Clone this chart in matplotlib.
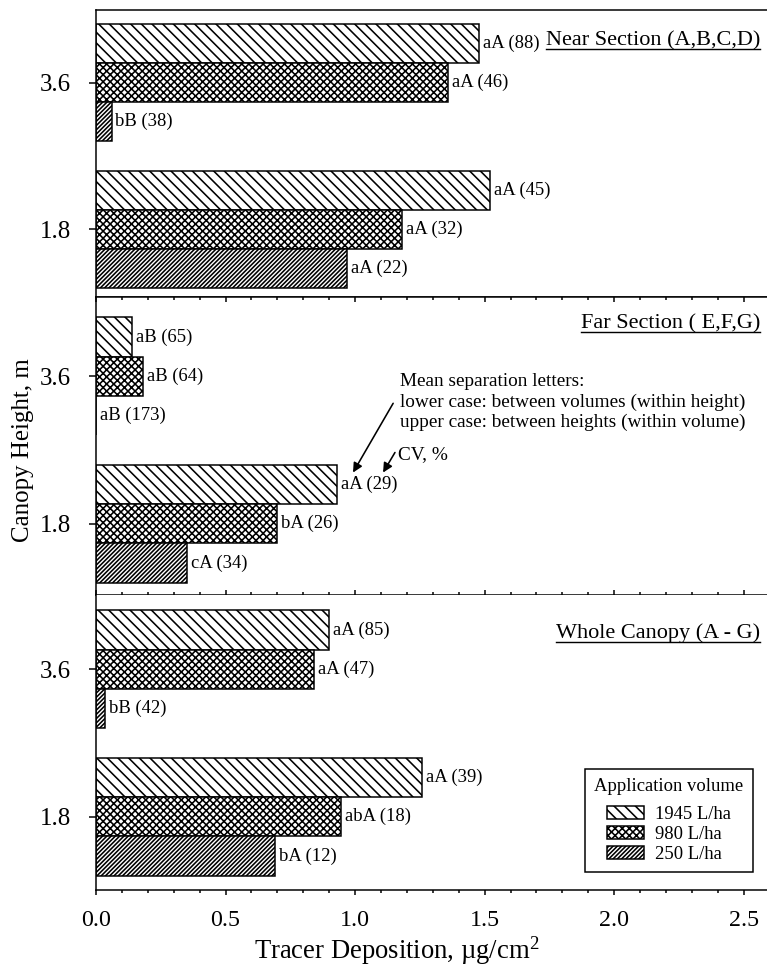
import numpy as np
import matplotlib
matplotlib.use("Agg")
import matplotlib.pyplot as plt
from matplotlib.patches import Patch
from matplotlib.lines import Line2D
from matplotlib.ticker import MultipleLocator, FormatStrFormatter

plt.rcParams["font.family"] = ["Liberation Serif", "DejaVu Serif"]
plt.rcParams["mathtext.fontset"] = "custom"
plt.rcParams["mathtext.rm"] = "Liberation Serif"
plt.rcParams["mathtext.it"] = "Liberation Serif:italic"
plt.rcParams["hatch.linewidth"] = 0.9

heights = [3.6, 1.8]
volumes = ["1945 L/ha", "980 L/ha", "250 L/ha"]
hatches = ["\\" * 4, "x" * 6, "/" * 10]
titles = ["Near Section (A,B,C,D)", "Far Section ( E,F,G)", "Whole Canopy (A - G)"]

# deposition (ug/cm2) at [3.6 m, 1.8 m]
near_1945 = [1.48, 1.52]
near_980 = [1.36, 1.18]
near_250 = [0.06, 0.97]
far_1945 = [0.14, 0.93]
far_980 = [0.18, 0.70]
far_250 = [0.0, 0.35]
whole_1945 = [0.90, 1.26]
whole_980 = [0.84, 0.945]
whole_250 = [0.035, 0.69]

# mean separation letters and CV %
near_lab = [["aA (88)", "aA (45)"], ["aA (46)", "aA (32)"], ["bB (38)", "aA (22)"]]
far_lab = [["aB (65)", "aA (29)"], ["aB (64)", "bA (26)"], ["aB (173)", "cA (34)"]]
whole_lab = [["aA (85)", "aA (39)"], ["aA (47)", "abA (18)"], ["bB (42)", "bA (12)"]]

panels = [
    ([near_1945, near_980, near_250], near_lab),
    ([far_1945, far_980, far_250], far_lab),
    ([whole_1945, whole_980, whole_250], whole_lab),
]

W, H, DPI = 767, 968, 128
fig = plt.figure(figsize=(W / DPI, H / DPI), dpi=DPI)
fig.patch.set_facecolor("white")

panel_px = [(10, 297), (297, 595), (595, 890)]
ylims = [(0.968, 4.49), (0.931, 4.567), (0.907, 4.506)]
title_y = [0.878, 0.896, 0.854]
offsets = [0.48, 0.0, -0.48]
bar_h = 0.48
lw = 0.85
x0 = 96 / W

axes = []
for i, ((top, bot), (series, labels)) in enumerate(zip(panel_px, panels)):
    ax = fig.add_axes([x0, 1 - bot / H, 1 - x0, (bot - top) / H])
    axes.append(ax)
    y = np.array(heights)
    for j, vals in enumerate(series):
        ax.barh(y + offsets[j], vals, height=bar_h, color="white",
                edgecolor="black", hatch=hatches[j], linewidth=lw)
        for k, v in enumerate(vals):
            ax.annotate(labels[j][k], (v, y[k] + offsets[j]), xytext=(2.2, 0),
                        textcoords="offset points", ha="left", va="center",
                        fontsize=10.5)
    ax.set_xlim(0, 2.59)
    ax.set_ylim(*ylims[i])
    ax.set_yticks(heights)
    ax.set_yticklabels([f"{h:.1f}" for h in heights], fontsize=14)
    ax.tick_params(axis="y", direction="out", length=4, width=lw, pad=10)
    ax.xaxis.set_major_locator(MultipleLocator(0.5))
    ax.xaxis.set_minor_locator(MultipleLocator(0.1))
    ax.spines["right"].set_visible(False)
    for s in ax.spines.values():
        s.set_linewidth(lw)
    ax.text(0.99, title_y[i], titles[i], transform=ax.transAxes, ha="right",
            va="baseline", fontsize=12.5)

top_ax, mid_ax, bot_ax = axes
top_ax.tick_params(axis="x", which="both", bottom=False, labelbottom=False)
mid_ax.tick_params(axis="x", which="both", direction="in", top=True, bottom=True,
                   labelbottom=False, width=lw)
mid_ax.tick_params(axis="x", which="major", length=2.8)
mid_ax.tick_params(axis="x", which="minor", length=1.9)
bot_ax.spines["top"].set_visible(False)
bot_ax.tick_params(axis="x", which="both", direction="out", width=lw,
                   labelsize=13.5, pad=8.5)
bot_ax.tick_params(axis="x", which="major", length=2.8)
bot_ax.tick_params(axis="x", which="minor", length=1.9)
bot_ax.xaxis.set_major_formatter(FormatStrFormatter("%.1f"))

fig.text(23 / W, 1 - 450 / H, "Canopy Height, m", rotation=90, ha="center",
         va="center", fontsize=14)
fig.text(397 / W, 1 - 959 / H, "Tracer Deposition, µg/cm$^2$", ha="center",
         va="baseline", fontsize=15)

# annotation explaining the bar labels
mid_ax.text(1.174, 3.64, "Mean separation letters:\n"
            "lower case: between volumes (within height)\n"
            "upper case: between heights (within volume)",
            ha="left", va="top", fontsize=10.8, linespacing=1.26)
mid_ax.text(1.166, 2.645, "CV, %", ha="left", va="center", fontsize=10.8)
arrow = dict(arrowstyle="-|>", color="black", lw=0.9, mutation_scale=11,
             shrinkA=0, shrinkB=0)
mid_ax.annotate("", xy=(0.992, 2.425), xytext=(1.147, 3.27), arrowprops=arrow)
mid_ax.annotate("", xy=(1.108, 2.425), xytext=(1.154, 2.67), arrowprops=arrow)

handles = [Patch(facecolor="white", edgecolor="black", hatch=h, linewidth=lw)
           for h in hatches]
leg = bot_ax.legend(handles, volumes, title="Application volume",
                    loc="lower right", bbox_to_anchor=(0.979, 0.061),
                    borderaxespad=0, fontsize=10.5, title_fontsize=10.5,
                    fancybox=False, edgecolor="black", framealpha=1,
                    handlelength=2.0, handleheight=0.7, labelspacing=0.15,
                    handletextpad=0.6, borderpad=0.5)
leg.get_frame().set_linewidth(lw)
leg._legend_box.sep = 6

# underline the section titles
fig.canvas.draw()
inv = fig.transFigure.inverted()
for ax, title in zip(axes, titles):
    t = [tx for tx in ax.texts if tx.get_text() == title][0]
    bb = t.get_window_extent()
    base = ax.transAxes.transform(t.get_position())[1]
    (fx0, fy), (fx1, _) = inv.transform([(bb.x0, base - 4), (bb.x1, base - 4)])
    fig.add_artist(Line2D([fx0, fx1], [fy, fy], color="black", lw=0.8,
                          transform=fig.transFigure))

fig.savefig("out.png", dpi=DPI, facecolor="white")
